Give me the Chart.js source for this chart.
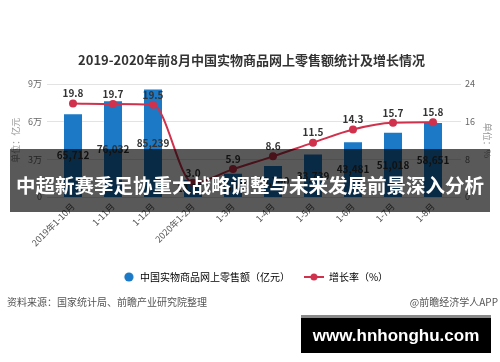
<!DOCTYPE html>
<html>
<head>
<meta charset="utf-8">
<script src="https://cdn.jsdelivr.net/npm/chart.js@4.4.1/dist/chart.umd.min.js"></script>
<style>
  body { margin: 0; background: #fff; }
  #wrap { position: relative; width: 500px; height: 362px; overflow: hidden; font-family: "Noto Sans CJK SC", sans-serif; }
  #band { position: absolute; left: 10px; top: 149px; width: 480px; height: 63px; background: rgba(0,0,0,0.65);
          color: #fff; font-weight: bold; font-size: 19.5px; line-height: 63px; text-align: center; padding-top: 4px; box-sizing: border-box; white-space: nowrap; }
  .src { position: absolute; top: 294px; font-size: 10px; color: #555; white-space: nowrap; }
  #site { position: absolute; left: 301px; top: 315px; width: 190px; height: 38px; background: #000; border-top: 3px solid #8a8a8a; box-sizing: border-box;
          color: #fff; font-family: "Liberation Sans", Arial, sans-serif; font-weight: bold; font-size: 17px; line-height: 35px; text-align: center; }
</style>
</head>
<body>
<div id="wrap">
  <canvas id="chart" width="500" height="362"></canvas>
  <div id="band">中超新赛季足协重大战略调整与未来发展前景深入分析</div>
  <div class="src" style="left:7px;">资料来源：国家统计局、前瞻产业研究院整理</div>
  <div class="src" style="right:2px;">@前瞻经济学人APP</div>
  <div id="site">www.hnhonghu.com</div>
</div>
<script>
// data
const categories = ['2019年1-10月', '1-11月', '1-12月', '2020年1-2月', '1-3月', '1-4月', '1-5月', '1-6月', '1-7月', '1-8月'];
const sales = [65712, 76032, 85239, 13712, 18536, 24700, 33739, 43481, 51018, 58651];
const growth = [19.8, 19.7, 19.5, 3.0, 5.9, 8.6, 11.5, 14.3, 15.7, 15.8];
const leftTicks = [0, 30000, 60000, 90000];
const rightTicks = [0, 8, 16, 24];

const blue = '#1b79c6';
const red = '#d0314c';
const cjk = '"Noto Sans CJK SC", sans-serif';

// legend markers
function marker(kind) {
  const c = document.createElement('canvas');
  c.width = 20; c.height = 10;
  const g = c.getContext('2d');
  if (kind === 'circle') {
    g.fillStyle = blue;
    g.beginPath(); g.arc(14, 5, 4.6, 0, Math.PI * 2); g.fill();
  } else {
    g.strokeStyle = red; g.lineWidth = 2;
    g.beginPath(); g.moveTo(0, 5); g.lineTo(20, 5); g.stroke();
    g.fillStyle = red;
    g.beginPath(); g.arc(10, 5, 3.5, 0, Math.PI * 2); g.fill();
  }
  return c;
}

// horizontal grid lines, a bit wider than the plot area
const gridPlugin = {
  id: 'gridLines',
  beforeDatasetsDraw(chart) {
    const { ctx, chartArea, scales } = chart;
    ctx.save();
    ctx.strokeStyle = '#e3e3e3';
    ctx.lineWidth = 1;
    leftTicks.forEach(v => {
      const y = Math.round(scales.y.getPixelForValue(v)) + 0.5;
      ctx.beginPath();
      ctx.moveTo(chartArea.left - 6, y);
      ctx.lineTo(chartArea.right + 8, y);
      ctx.stroke();
    });
    ctx.restore();
  }
};

// value labels on bars and points
const labelPlugin = {
  id: 'valueLabels',
  afterDatasetsDraw(chart) {
    const ctx = chart.ctx;
    ctx.save();
    ctx.font = 'bold 10px ' + cjk;
    ctx.fillStyle = '#333';
    ctx.textAlign = 'center';
    ctx.textBaseline = 'middle';
    chart.getDatasetMeta(0).data.forEach((bar, i) => {
      ctx.fillText(sales[i].toLocaleString('en-US'), bar.x, (bar.y + bar.base) / 2);
    });
    chart.getDatasetMeta(1).data.forEach((pt, i) => {
      ctx.fillText(growth[i].toFixed(1), pt.x, pt.y - 10);
    });
    ctx.restore();
  }
};

new Chart(document.getElementById('chart'), {
  type: 'bar',
  data: {
    labels: categories,
    datasets: [{
      type: 'bar',
      label: '中国实物商品网上零售额（亿元）',
      data: sales,
      backgroundColor: blue,
      yAxisID: 'y',
      categoryPercentage: 0.5,
      barPercentage: 0.9,
      order: 2
    }, {
      type: 'line',
      label: '增长率（%）',
      data: growth,
      borderColor: red,
      backgroundColor: red,
      borderWidth: 2,
      pointRadius: 4,
      pointBackgroundColor: red,
      pointBorderWidth: 0,
      cubicInterpolationMode: 'monotone',
      yAxisID: 'y1',
      order: 1
    }]
  },
  options: {
    responsive: false,
    animation: false,
    layout: { padding: { top: 42, left: 6, right: 3, bottom: 70 } },
    scales: {
      x: {
        offset: true,
        grid: { display: false, drawTicks: false },
        border: { display: false },
        ticks: { color: '#555', font: { size: 9, family: cjk }, minRotation: 45, maxRotation: 45, padding: 4 },
        afterFit(scale) { scale.height = 61; }
      },
      y: {
        position: 'left',
        min: 0, max: 90000,
        afterBuildTicks(scale) { scale.ticks = leftTicks.map(v => ({ value: v })); },
        grid: { display: false, drawTicks: false },
        border: { display: false },
        ticks: {
          color: '#666', padding: 11, font: { size: 9, family: cjk },
          callback: v => v === 0 ? '0' : (v / 10000) + '万'
        },
        title: { display: true, text: '单位：亿元', color: '#999', font: { size: 9, family: cjk } },
        afterFit(scale) { scale.width = 47; }
      },
      y1: {
        position: 'right',
        min: 0, max: 24,
        afterBuildTicks(scale) { scale.ticks = rightTicks.map(v => ({ value: v })); },
        grid: { display: false, drawTicks: false },
        border: { display: false },
        ticks: { color: '#666', padding: 12, font: { size: 9, family: cjk } },
        title: { display: true, text: '单位：%', color: '#999', font: { size: 9, family: cjk } },
        afterFit(scale) { scale.width = 44; }
      }
    },
    plugins: {
      title: {
        display: true,
        text: '2019-2020年前8月中国实物商品网上零售额统计及增长情况',
        color: '#333',
        font: { size: 13, weight: 'bold', family: cjk },
        padding: { top: 10, bottom: 16 }
      },
      legend: {
        position: 'bottom',
        labels: {
          usePointStyle: true,
          pointStyleWidth: 20,
          boxHeight: 10,
          padding: 14,
          color: '#333',
          font: { size: 10, family: cjk },
          generateLabels() {
            return [
              { text: '中国实物商品网上零售额（亿元）', pointStyle: marker('circle'), fillStyle: blue, strokeStyle: blue, lineWidth: 0, hidden: false, datasetIndex: 0 },
              { text: '增长率（%）', pointStyle: marker('line'), fillStyle: red, strokeStyle: red, lineWidth: 0, hidden: false, datasetIndex: 1 }
            ];
          }
        }
      },
      tooltip: { enabled: false }
    }
  },
  plugins: [gridPlugin, labelPlugin]
});
</script>
</body>
</html>
